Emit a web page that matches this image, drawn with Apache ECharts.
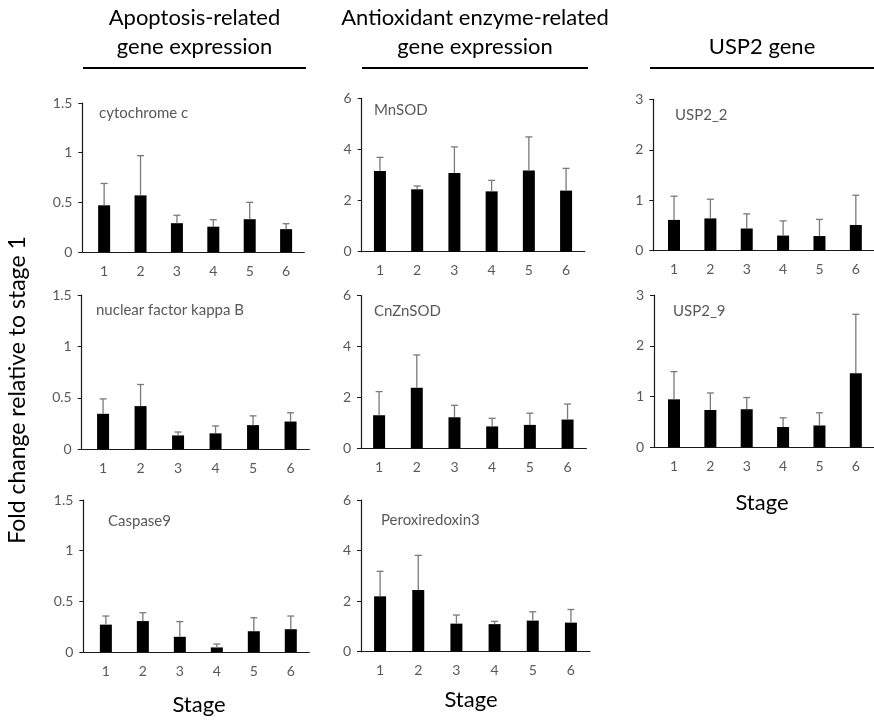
<!DOCTYPE html>
<html>
<head>
<meta charset="utf-8">
<title>Fold change by stage</title>
<script src="https://cdn.jsdelivr.net/npm/echarts@6/dist/echarts.min.js"></script>
<style>
  html, body { margin: 0; padding: 0; background: #fff; }
  #chart { width: 874px; height: 724px; }
</style>
</head>
<body>
<div id="chart"></div>
<script>
// Stage labels shared by every panel
const stages = [1, 2, 3, 4, 5, 6];

// Apoptosis-related genes: mean fold change and upper SD
const cytochromeC     = [0.47, 0.57, 0.29, 0.255, 0.33, 0.23];
const cytochromeCSd   = [0.22, 0.40, 0.08, 0.07, 0.17, 0.055];
const nfkb            = [0.345, 0.42, 0.135, 0.155, 0.235, 0.27];
const nfkbSd          = [0.145, 0.21, 0.033, 0.072, 0.09, 0.085];
const caspase9        = [0.27, 0.305, 0.15, 0.045, 0.205, 0.225];
const caspase9Sd      = [0.085, 0.082, 0.15, 0.034, 0.133, 0.13];

// Antioxidant enzyme-related genes
const mnSod           = [3.16, 2.44, 3.08, 2.36, 3.18, 2.39];
const mnSodSd         = [0.53, 0.13, 1.02, 0.43, 1.31, 0.87];
const cnZnSod         = [1.30, 2.38, 1.22, 0.86, 0.92, 1.13];
const cnZnSodSd       = [0.93, 1.29, 0.47, 0.32, 0.46, 0.61];
const peroxiredoxin3  = [2.19, 2.44, 1.11, 1.09, 1.23, 1.15];
const peroxiredoxin3Sd= [0.99, 1.37, 0.34, 0.11, 0.35, 0.52];

// USP2 gene
const usp2_2          = [0.61, 0.64, 0.44, 0.30, 0.29, 0.51];
const usp2_2Sd        = [0.47, 0.38, 0.29, 0.29, 0.33, 0.59];
const usp2_9          = [0.945, 0.735, 0.75, 0.40, 0.43, 1.46];
const usp2_9Sd        = [0.545, 0.335, 0.23, 0.18, 0.25, 1.16];

// Y-axis scales per column
const yMaxApoptosis = 1.5, yStepApoptosis = 0.5;
const yMaxAntiox = 6, yStepAntiox = 2;
const yMaxUsp2 = 3, yStepUsp2 = 1;

const FONT = 'Lato, "Open Sans", sans-serif';
const GREY = '#595959';

// Panel layout: plot box and gene data
const panels = [
  { name: 'cytochrome c',          mean: cytochromeC,    sd: cytochromeCSd,    ymax: yMaxApoptosis, step: yStepApoptosis,
    left: 82.3, top: 103,   width: 222,   height: 149,   xmin: 0.40, lx: 99,  ly: 115 },
  { name: 'MnSOD',                 mean: mnSod,          sd: mnSodSd,          ymax: yMaxAntiox,    step: yStepAntiox,
    left: 361.7, top: 98.3, width: 223,   height: 153.4, xmin: 0.51, lx: 374, ly: 112 },
  { name: 'USP2_2',                mean: usp2_2,         sd: usp2_2Sd,         ymax: yMaxUsp2,      step: yStepUsp2,
    left: 653.3, top: 99.3, width: 224.8, height: 151.4, xmin: 0.43, lx: 675, ly: 117 },
  { name: 'nuclear factor kappa B',mean: nfkb,           sd: nfkbSd,           ymax: yMaxApoptosis, step: yStepApoptosis,
    left: 81.7, top: 295,   width: 227.6, height: 154.3, xmin: 0.43, lx: 96,  ly: 312 },
  { name: 'CnZnSOD',               mean: cnZnSod,        sd: cnZnSodSd,        ymax: yMaxAntiox,    step: yStepAntiox,
    left: 361,  top: 295.7, width: 225.4, height: 152.6, xmin: 0.52, lx: 374, ly: 313 },
  { name: 'USP2_9',                mean: usp2_9,         sd: usp2_9Sd,         ymax: yMaxUsp2,      step: yStepUsp2,
    left: 654,  top: 295,   width: 227.5, height: 152.3, xmin: 0.45, lx: 673, ly: 313 },
  { name: 'Caspase9',              mean: caspase9,       sd: caspase9Sd,       ymax: yMaxApoptosis, step: yStepApoptosis,
    left: 83.3, top: 500,   width: 226,   height: 152,   xmin: 0.39, lx: 108, ly: 523 },
  { name: 'Peroxiredoxin3',        mean: peroxiredoxin3, sd: peroxiredoxin3Sd, ymax: yMaxAntiox,    step: yStepAntiox,
    left: 361,  top: 500,   width: 229,   height: 151.7, xmin: 0.50, lx: 381, ly: 522 }
];

const grid = [], xAxis = [], yAxis = [], series = [], graphic = [];

panels.forEach((p, i) => {
  grid.push({ left: p.left, top: p.top, width: p.width, height: p.height, containLabel: false });
  xAxis.push({
    type: 'value', gridIndex: i, min: p.xmin, max: 6.5,
    axisLine: { show: true, lineStyle: { color: '#1a1a1a', width: 1.2 } },
    axisTick: { show: false },
    splitLine: { show: false },
    axisLabel: { customValues: stages, color: GREY, fontSize: 14, fontFamily: FONT, margin: 12 }
  });
  yAxis.push({
    type: 'value', gridIndex: i, min: 0, max: p.ymax, interval: p.step,
    axisLine: { show: true, lineStyle: { color: '#1a1a1a', width: 1.2 } },
    axisTick: { show: true, length: 4, lineStyle: { color: '#1a1a1a' } },
    splitLine: { show: false },
    axisLabel: { color: GREY, fontSize: 14, fontFamily: FONT, margin: 10 }
  });
  series.push({
    type: 'bar', xAxisIndex: i, yAxisIndex: i, barWidth: 12,
    itemStyle: { color: '#000' },
    data: stages.map((s, k) => [s, p.mean[k]]),
    silent: true, z: 2
  });
  series.push({
    type: 'custom', xAxisIndex: i, yAxisIndex: i, silent: true, z: 3,
    data: stages.map((s, k) => [s, p.mean[k], p.mean[k] + p.sd[k]]),
    renderItem: (params, api) => {
      const base = api.coord([api.value(0), api.value(1)]);
      const tip = api.coord([api.value(0), api.value(2)]);
      const style = { stroke: '#7a7a7a', lineWidth: 1.3 };
      return {
        type: 'group',
        children: [
          { type: 'line', shape: { x1: base[0], y1: base[1], x2: tip[0], y2: tip[1] }, style },
          { type: 'line', shape: { x1: tip[0] - 3.5, y1: tip[1], x2: tip[0] + 3.5, y2: tip[1] }, style }
        ]
      };
    }
  });
  graphic.push({
    type: 'text', left: p.lx, top: p.ly - 9,
    style: { text: p.name, fill: GREY, fontSize: 15, fontFamily: FONT }
  });
});

// Column headers with underline bars
const headers = [
  { lines: ['Apoptosis-related', 'gene expression'], x1: 83, x2: 306 },
  { lines: ['Antioxidant enzyme-related', 'gene expression'], x1: 362, x2: 588 },
  { lines: ['USP2 gene'], x1: 650, x2: 874 }
];
headers.forEach(h => {
  const cx = (h.x1 + h.x2) / 2;
  h.lines.forEach((t, j) => {
    const y = h.lines.length === 2 ? (j === 0 ? 18 : 47) : 47;
    graphic.push({
      type: 'text', x: cx, y: y,
      style: { text: t, fill: '#000', fontSize: 22, fontFamily: FONT, align: 'center', verticalAlign: 'middle' }
    });
  });
  graphic.push({
    type: 'line', shape: { x1: h.x1, y1: 68, x2: h.x2, y2: 68 },
    style: { stroke: '#000', lineWidth: 2 }
  });
});

// Shared axis titles
graphic.push({
  type: 'text', x: 18, y: 390, rotation: Math.PI / 2,
  style: { text: 'Fold change relative to stage 1', fill: '#000', fontSize: 23, fontFamily: FONT, align: 'center', verticalAlign: 'middle' }
});
[[199, 705], [471, 700], [762, 503]].forEach(([x, y]) => {
  graphic.push({
    type: 'text', x, y,
    style: { text: 'Stage', fill: '#000', fontSize: 22, fontFamily: FONT, align: 'center', verticalAlign: 'middle' }
  });
});

const chart = echarts.init(document.getElementById('chart'), null, { renderer: 'canvas' });
chart.setOption({
  animation: false,
  backgroundColor: '#fff',
  grid, xAxis, yAxis, series, graphic
});
</script>
</body>
</html>
